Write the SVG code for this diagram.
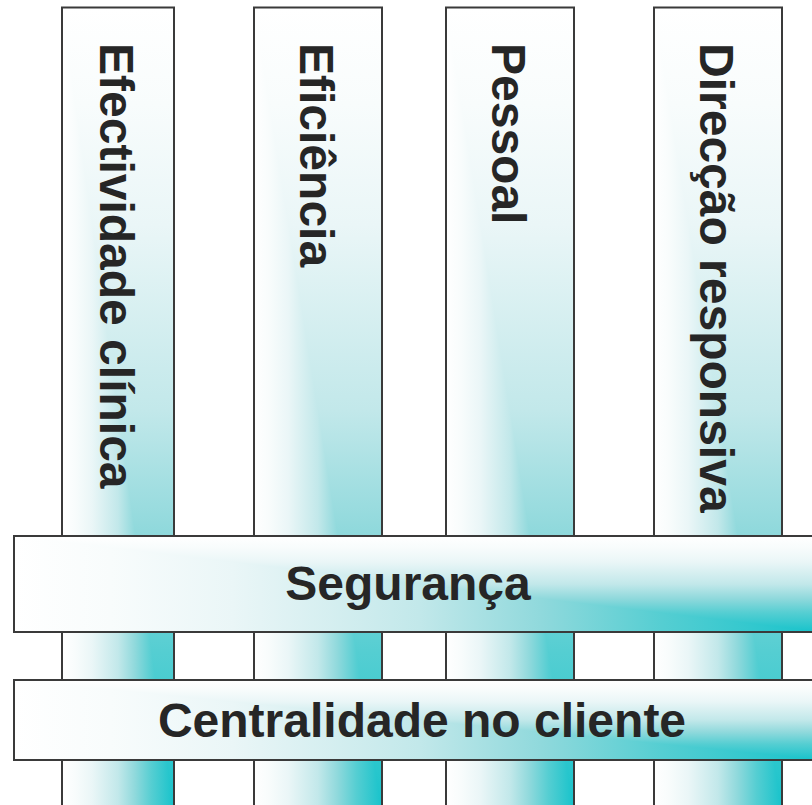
<svg xmlns="http://www.w3.org/2000/svg" width="812" height="805" viewBox="0 0 812 805">
<defs>
<linearGradient id="gv" x1="0" y1="0" x2="0" y2="1">
<stop offset="0" stop-color="#ffffff"/>
<stop offset="0.12" stop-color="#f8fcfc"/>
<stop offset="0.27" stop-color="#eaf6f7"/>
<stop offset="0.5" stop-color="#c2e8ea"/>
<stop offset="0.65" stop-color="#90d9dc"/>
<stop offset="0.8" stop-color="#55ced2"/>
<stop offset="1" stop-color="#17c3cb"/>
</linearGradient>
<linearGradient id="gh" x1="0" y1="0" x2="1" y2="0">
<stop offset="0" stop-color="#ffffff"/>
<stop offset="0.12" stop-color="#f8fcfc"/>
<stop offset="0.27" stop-color="#eaf6f7"/>
<stop offset="0.5" stop-color="#c2e8ea"/>
<stop offset="0.65" stop-color="#90d9dc"/>
<stop offset="0.8" stop-color="#55ced2"/>
<stop offset="1" stop-color="#17c3cb"/>
</linearGradient>
<style>
.fv{fill:url(#gv);stroke:none}
.fh{fill:url(#gh);stroke:none}
.ol{fill:none;stroke:#3a3a3a;stroke-width:2}
.t{font-family:"Liberation Sans",Arial,sans-serif;font-weight:bold;font-size:48px;fill:#262626}
</style>
</defs>
<rect width="812" height="805" fill="#ffffff"/>
<g id="pillar-efectividade">
<rect class="fv" x="62" y="7.5" width="112" height="805"/>
<polygon class="fh" points="62,7.5 62,812.5 174,812.5"/>
<rect class="ol" x="62" y="7.5" width="112" height="805"/>
<text class="t" transform="translate(100,43) rotate(90)">Efectividade clínica</text>
</g>
<g id="pillar-eficiencia">
<rect class="fv" x="254" y="7.5" width="128" height="805"/>
<polygon class="fh" points="254,7.5 254,812.5 382,812.5"/>
<rect class="ol" x="254" y="7.5" width="128" height="805"/>
<text class="t" transform="translate(300,43) rotate(90)">Eficiência</text>
</g>
<g id="pillar-pessoal">
<rect class="fv" x="446" y="7.5" width="128" height="805"/>
<polygon class="fh" points="446,7.5 446,812.5 574,812.5"/>
<rect class="ol" x="446" y="7.5" width="128" height="805"/>
<text class="t" transform="translate(492,43) rotate(90)">Pessoal</text>
</g>
<g id="pillar-direccao">
<rect class="fv" x="654" y="7.5" width="128" height="805"/>
<polygon class="fh" points="654,7.5 654,812.5 782,812.5"/>
<rect class="ol" x="654" y="7.5" width="128" height="805"/>
<text class="t" transform="translate(700,43) rotate(90)">Direcção responsiva</text>
</g>
<g id="band-seguranca">
<rect class="fv" x="14" y="536" width="810" height="96"/>
<polygon class="fh" points="14,536 14,632 824,632"/>
<rect class="ol" x="14" y="536" width="810" height="96"/>
<text class="t" x="408" y="600" text-anchor="middle">Segurança</text>
</g>
<g id="band-centralidade">
<rect class="fv" x="14" y="680" width="810" height="80"/>
<polygon class="fh" points="14,680 14,760 824,760"/>
<rect class="ol" x="14" y="680" width="810" height="80"/>
<text class="t" x="422" y="737" text-anchor="middle">Centralidade no cliente</text>
</g>
<g id="connectors"></g>
</svg>
